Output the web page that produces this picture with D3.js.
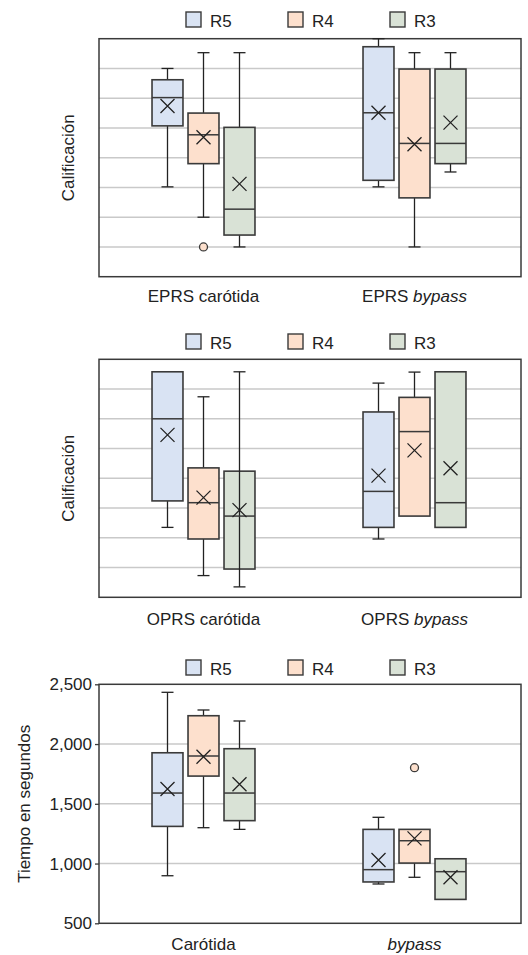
<!DOCTYPE html>
<html>
<head>
<meta charset="utf-8">
<script src="https://cdn.jsdelivr.net/npm/d3@7"></script>
<style>
  html, body { margin: 0; padding: 0; background: #fff; }
  svg { display: block; font-family: "Liberation Sans", Arial, sans-serif; }
</style>
</head>
<body>
<svg id="chart" width="528" height="955"></svg>
<script>
// ---------- DATA ----------
const series = ["R5", "R4", "R3"];
const seriesColors = ["#d9e3f3", "#fde0cd", "#d9e2d6"];

const eprsCategories = ["EPRS carótida", "EPRS bypass"];
const oprsCategories = ["OPRS carótida", "OPRS bypass"];
const timeCategories = ["Carótida", "bypass"];

// each box: [min, q1, median, q3, max, mean]
const eprsCarotida = [
  [3.02, 5.07, 6.02, 6.62, 7.00, 5.74],
  [2.00, 3.80, 4.77, 5.50, 7.53, 4.69],
  [1.00, 1.40, 2.27, 5.02, 7.53, 3.12]
];
const eprsBypass = [
  [3.02, 3.24, 5.51, 7.73, 8.00, 5.51],
  [1.00, 2.65, 4.48, 6.98, 7.53, 4.45],
  [3.52, 3.80, 4.48, 6.98, 7.53, 5.18]
];
const eprsOutliers = [[], [1.0], []];          // carótida, per series
const eprsOutliersBypass = [[], [], []];

const oprsCarotida = [
  [2.35, 3.24, 6.00, 7.58, 7.58, 5.46],
  [0.73, 1.96, 3.18, 4.35, 6.74, 3.35],
  [0.35, 0.95, 2.73, 4.24, 7.58, 2.93]
];
const oprsBypass = [
  [1.96, 2.35, 3.56, 6.23, 7.20, 4.09],
  [2.73, 2.73, 5.57, 6.72, 7.57, 4.94],
  [2.35, 2.35, 3.18, 7.58, 7.58, 4.34]
];

const timeCarotida = [
  [898, 1311, 1590, 1927, 2433, 1624],
  [1300, 1732, 1900, 2237, 2285, 1894],
  [1286, 1359, 1590, 1961, 2193, 1663]
];
const timeBypass = [
  [829, 846, 949, 1286, 1387, 1030],
  [885, 1004, 1191, 1286, 1286, 1211],
  [700, 700, 932, 1040, 1040, 885]
];
const timeOutliersCarotida = [[], [], []];
const timeOutliersBypass = [[], [1802], []];

const scoreTicks = [1, 2, 3, 4, 5, 6, 7];
const timeTicks = [500, 1000, 1500, 2000, 2500];

// ---------- LAYOUT ----------
const svg = d3.select("#chart");
const plotLeft = 99, plotRight = 521;
const stroke = "#3a3a3a";

const panels = [
  { top: 38.7, bottom: 276.7, legendY: 12, labelY: 302, domain: [0, 8], grid: scoreTicks, labels: null,
    title: "Calificación", titleX: 68, cats: eprsCategories,
    stats: [eprsCarotida, eprsBypass], outliers: [eprsOutliers, eprsOutliersBypass], through: [] },
  { top: 359.3, bottom: 597.3, legendY: 334, labelY: 625, domain: [0, 8], grid: scoreTicks, labels: null,
    title: "Calificación", titleX: 68, cats: oprsCategories,
    stats: [oprsCarotida, oprsBypass], outliers: [[[], [], []], [[], [], []]], through: ["0-2"] },
  { top: 684.3, bottom: 923.3, legendY: 660, labelY: 950, domain: [500, 2500], grid: [1000, 1500, 2000], labels: timeTicks,
    title: "Tiempo en segundos", titleX: 24, cats: timeCategories,
    stats: [timeCarotida, timeBypass], outliers: [timeOutliersCarotida, timeOutliersBypass], through: [] }
];

function catLabel(sel, text) {
  const parts = text.split(/(bypass)/);
  parts.forEach(p => {
    if (!p) return;
    sel.append("tspan").attr("font-style", p === "bypass" ? "italic" : "normal").text(p);
  });
}

panels.forEach(p => {
  const g = svg.append("g");
  const y = d3.scaleLinear().domain(p.domain).range([p.bottom, p.top]);
  const x = d3.scaleBand().domain(p.cats).range([plotLeft, plotRight]).padding(0);
  const xs = d3.scaleBand().domain(series).range([-54, 54]);
  const bw = xs.bandwidth() * 0.86;
  const color = d3.scaleOrdinal().domain(series).range(seriesColors);

  // legend
  const lg = g.append("g");
  series.forEach((s, i) => {
    const lx = 186 + i * 102;
    lg.append("rect").attr("x", lx).attr("y", p.legendY).attr("width", 15).attr("height", 15)
      .attr("fill", color(s)).attr("stroke", stroke).attr("stroke-width", 1.4);
    lg.append("text").attr("x", lx + 24).attr("y", p.legendY + 14.5)
      .attr("font-size", 17).attr("fill", "#222").text(s);
  });

  // gridlines
  g.append("g").selectAll("line").data(p.grid).join("line")
    .attr("x1", plotLeft).attr("x2", plotRight)
    .attr("y1", d => y(d)).attr("y2", d => y(d))
    .attr("stroke", "#c9c9c9").attr("stroke-width", 1.4);

  // y axis labels (bottom panel)
  if (p.labels) {
    const ax = d3.axisLeft(y).tickValues(p.labels).tickSize(4).tickPadding(3)
      .tickFormat(d3.format(","));
    const axg = g.append("g").attr("transform", `translate(${plotLeft},0)`).call(ax);
    axg.select(".domain").remove();
    axg.selectAll("line").attr("stroke", stroke).attr("stroke-width", 1.3);
    axg.selectAll("text").attr("font-size", 17).attr("fill", "#222")
      .attr("font-family", "'Liberation Sans', Arial, sans-serif");
  }

  // frame
  g.append("rect").attr("x", plotLeft).attr("y", p.top)
    .attr("width", plotRight - plotLeft).attr("height", p.bottom - p.top)
    .attr("fill", "none").attr("stroke", stroke).attr("stroke-width", 1.5);

  // y title
  g.append("text")
    .attr("transform", `translate(${p.titleX + 6},${(p.top + p.bottom) / 2}) rotate(-90)`)
    .attr("text-anchor", "middle").attr("font-size", 17).attr("fill", "#222").text(p.title);

  // category labels
  p.cats.forEach(c => {
    const t = g.append("text").attr("x", x(c) + x.bandwidth() / 2 - 1).attr("y", p.labelY)
      .attr("text-anchor", "middle").attr("font-size", 17).attr("fill", "#222");
    catLabel(t, c);
  });

  // boxes
  p.cats.forEach((c, ci) => {
    series.forEach((s, si) => {
      const [mn, q1, md, q3, mx, mean] = p.stats[ci][si];
      const cx = x(c) + x.bandwidth() / 2 + xs(s) + xs.bandwidth() / 2 - 1;
      const bg = g.append("g");
      const through = p.through.includes(ci + "-" + si);
      const wh = (y1, y2) => bg.append("line").attr("x1", cx).attr("x2", cx)
        .attr("y1", y(y1)).attr("y2", y(y2)).attr("stroke", "#222").attr("stroke-width", 1.3);
      const cap = v => bg.append("line").attr("x1", cx - 6).attr("x2", cx + 6)
        .attr("y1", y(v)).attr("y2", y(v)).attr("stroke", "#222").attr("stroke-width", 1.3);
      if (mx > q3) { if (!through) wh(q3, mx); cap(mx); }
      if (mn < q1) { if (!through) wh(mn, q1); cap(mn); }
      bg.append("rect").attr("x", cx - bw / 2).attr("y", y(q3))
        .attr("width", bw).attr("height", y(q1) - y(q3))
        .attr("fill", color(s)).attr("stroke", stroke).attr("stroke-width", 1.6);
      if (through) wh(mn, mx);
      bg.append("line").attr("x1", cx - bw / 2).attr("x2", cx + bw / 2)
        .attr("y1", y(md)).attr("y2", y(md)).attr("stroke", stroke).attr("stroke-width", 1.5);
      const my = y(mean), r = 7;
      bg.append("path")
        .attr("d", `M${cx - r},${my - r}L${cx + r},${my + r}M${cx - r},${my + r}L${cx + r},${my - r}`)
        .attr("stroke", "#222").attr("stroke-width", 1.3).attr("fill", "none");
      (p.outliers[ci][si] || []).forEach(o => {
        bg.append("circle").attr("cx", cx).attr("cy", y(o)).attr("r", 4)
          .attr("fill", color(s)).attr("stroke", stroke).attr("stroke-width", 1.3);
      });
    });
  });
});
</script>
</body>
</html>
